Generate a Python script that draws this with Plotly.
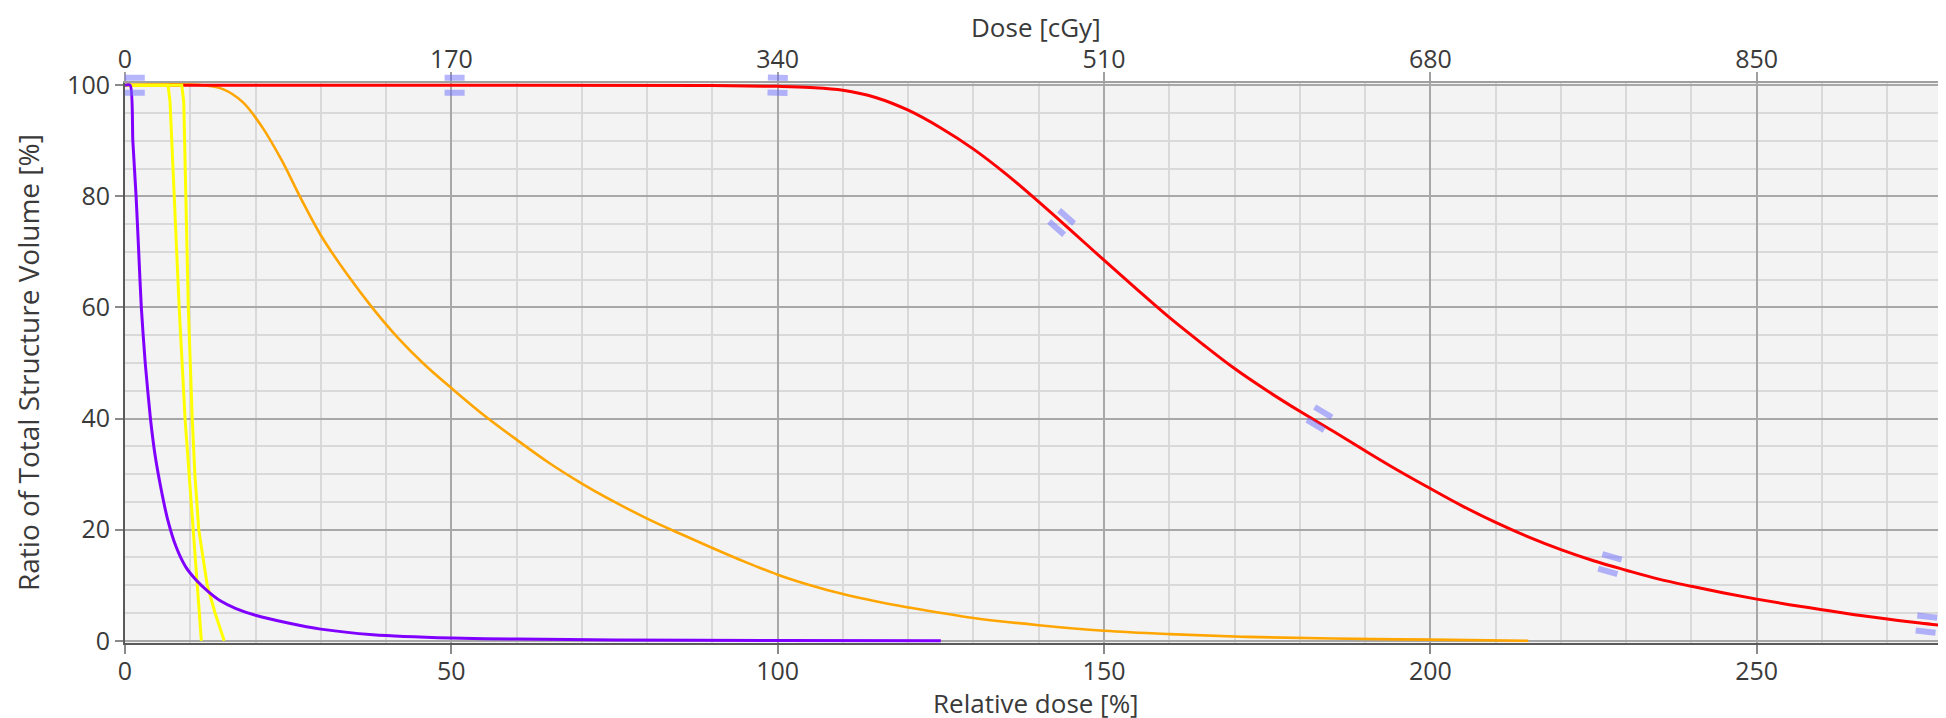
import numpy as np
import plotly.graph_objects as go

# ---------------- data ----------------
red_x = [0, 60, 90, 100, 105, 110, 115, 120, 125, 130, 135, 140, 145, 150, 155, 160, 165, 170,
         175, 180, 185, 190, 195, 200, 205, 210, 215, 220, 225, 230, 235, 240, 245, 250, 255,
         260, 265, 270, 275, 279]
red_y = [100, 100, 99.95, 99.8, 99.6, 99.1, 97.8, 95.5, 92.3, 88.5, 84.0, 79.0, 73.8, 68.5,
         63.3, 58.2, 53.5, 49.0, 45.0, 41.3, 37.8, 34.2, 30.7, 27.4, 24.2, 21.3, 18.7, 16.4,
         14.4, 12.7, 11.1, 9.8, 8.6, 7.5, 6.5, 5.6, 4.7, 3.9, 3.2, 2.7]

orange_x = [0, 12, 15, 18, 21, 24, 27, 30, 34, 38, 42, 46, 50, 55, 60, 65, 70, 75, 80, 85, 90,
            95, 100, 105, 110, 115, 120, 130, 140, 150, 160, 172, 185, 200, 215]
orange_y = [100, 100, 99.3, 97.0, 92.5, 86.5, 79.5, 73.0, 66.0, 59.8, 54.3, 49.6, 45.5, 40.6,
            36.2, 32.0, 28.3, 25.0, 22.0, 19.3, 16.7, 14.2, 11.9, 10.0, 8.4, 7.1, 6.0, 4.1, 2.8,
            1.8, 1.2, 0.7, 0.4, 0.2, 0.0]

purple_x = [0, 0.8, 1.2, 1.7, 2.1, 2.5, 3.1, 3.9, 4.6, 5.5, 6.5, 7.8, 9.3, 11, 12.8, 14.6, 17,
            20, 25, 30, 38, 50, 60, 75, 100, 125]
purple_y = [100, 100, 90, 80, 70, 60, 50, 40, 33.5, 27.5, 22, 17, 13.3, 10.8, 8.8, 7.2, 5.8,
            4.6, 3.2, 2.1, 1.1, 0.5, 0.3, 0.15, 0.05, 0.0]

yellow1_x = [0, 6.6, 6.9, 7.5, 8.3, 9.2, 9.8, 10.4, 11.0, 11.4, 11.7]
yellow1_y = [100, 100, 97, 80, 60, 40, 30, 20, 10, 5, 0]

yellow2_x = [0, 8.7, 9.0, 9.3, 9.7, 10.3, 10.7, 11.3, 12.6, 13.8, 15.2]
yellow2_y = [100, 100, 97, 80, 60, 40, 30, 20, 10, 5, 0]

# constraint markers on the red curve
mark_x = [1.5, 50.5, 100, 143.5, 183, 227.5, 276]
mark_y = [100, 100, 100, 75.3, 40, 13.8, 3.0]

x_max = 279
cgy_per_pct = 3.4
top_ticks = [0, 170, 340, 510, 680, 850]

# ---------------- layout geometry ----------------
W, H = 1946, 718
ML, MR, MT, MB = 117, 8, 75, 83
y_lo, y_hi = -0.4, 100.4
PW, PH = W - ML - MR, H - MT - MB
ppx = PW / x_max
ppy = PH / (y_hi - y_lo)

FONT = "Open Sans"
TXT = "#3a3a3a"
TICK_SIZE = 25
TITLE_SIZE = 26

fig = go.Figure()

def add_line(x, y, color, width, shape="linear", smoothing=1.0):
    line = dict(color=color, width=width, shape=shape)
    if shape == "spline":
        line["smoothing"] = smoothing
    fig.add_trace(go.Scatter(x=x, y=y, mode="lines", line=line,
                             showlegend=False, hoverinfo="skip"))

add_line(orange_x, orange_y, "#ffa500", 2.6, "spline", 1.0)
add_line(red_x, red_y, "#ff0000", 3, "spline", 1.0)
add_line(yellow1_x, yellow1_y, "#ffff00", 3)
add_line(yellow2_x, yellow2_y, "#ffff00", 3)
add_line(purple_x, purple_y, "#8000ff", 3, "spline", 0.6)

# dummy trace for the top (cGy) axis
fig.add_trace(go.Scatter(x=[0, x_max * cgy_per_pct], y=[None, None], xaxis="x2", yaxis="y",
                         mode="lines", showlegend=False, hoverinfo="skip"))

# "=" constraint marks aligned with the red curve
shapes = []
rx = np.array(red_x, float)
ry = np.array(red_y, float)
for mx, my in zip(mark_x, mark_y):
    h = 2.0
    dy = np.interp(mx + h, rx, ry) - np.interp(mx - h, rx, ry)
    ux, uy = 2 * h * ppx, dy * ppy
    n = np.hypot(ux, uy)
    ux, uy = ux / n, uy / n
    nx, ny = -uy, ux
    L, d = 10.0, 7.5
    segs = []
    for s in (1, -1):
        ax, ay = s * d * nx - L * ux, s * d * ny - L * uy
        bx, by = s * d * nx + L * ux, s * d * ny + L * uy
        segs.append(f"M{ax:.2f},{ay:.2f} L{bx:.2f},{by:.2f}")
    shapes.append(dict(type="path", xref="paper", yref="paper", xsizemode="pixel",
                       ysizemode="pixel", xanchor=mx / x_max,
                       yanchor=(my - y_lo) / (y_hi - y_lo), path=" ".join(segs),
                       line=dict(color="rgba(110,110,255,0.5)", width=6), layer="above"))

# right border
shapes.append(dict(type="line", xref="paper", yref="paper", x0=1, x1=1, y0=0, y1=1,
                   line=dict(color="#a0a0a0", width=2), layer="above"))

# axis titles as annotations (pixel-placed)
def py(pix):  # pixel row from top -> paper y
    return (H - MB - pix) / PH

def px(pix):  # pixel column from left -> paper x
    return (pix - ML) / PW

annotations = [
    dict(text="Dose [cGy]", xref="paper", yref="paper", x=0.5, y=py(18.5), showarrow=False,
         xanchor="center", yanchor="middle", font=dict(size=TITLE_SIZE, family=FONT, color=TXT)),
    dict(text="Relative dose [%]", xref="paper", yref="paper", x=0.5, y=py(695), showarrow=False,
         xanchor="center", yanchor="middle", font=dict(size=TITLE_SIZE, family=FONT, color=TXT)),
    dict(text="Ratio of Total Structure Volume [%]", xref="paper", yref="paper", x=px(20),
         y=0.5, showarrow=False, textangle=-90, xanchor="center", yanchor="middle",
         font=dict(size=TITLE_SIZE + 2, family=FONT, color=TXT)),
]

fig.update_layout(
    width=W, height=H,
    margin=dict(l=ML, r=MR, t=MT, b=MB, pad=0, autoexpand=False),
    paper_bgcolor="white",
    plot_bgcolor="#f3f3f3",
    font=dict(family=FONT, color=TXT, size=TICK_SIZE),
    shapes=shapes,
    annotations=annotations,
    xaxis=dict(
        range=[0, x_max], tickmode="linear", tick0=0, dtick=50, automargin=False,
        showgrid=True, gridcolor="#a8a8a8", gridwidth=2,
        minor=dict(dtick=10, showgrid=True, gridcolor="#d9d9d9", gridwidth=2),
        showline=True, linecolor="#5a5a5a", linewidth=2,
        ticks="outside", ticklen=9, tickwidth=2, tickcolor="#8a8a8a",
        ticklabelstandoff=-4,
        tickfont=dict(size=TICK_SIZE, family=FONT, color=TXT),
        zeroline=False,
    ),
    xaxis2=dict(
        overlaying="x", side="top", range=[0, x_max * cgy_per_pct], automargin=False,
        tickmode="array", tickvals=top_ticks, ticktext=[str(v) for v in top_ticks],
        showgrid=False, zeroline=False,
        showline=True, linecolor="#a0a0a0", linewidth=2,
        ticks="outside", ticklen=9, tickwidth=2, tickcolor="#a0a0a0",
        ticklabelstandoff=-6,
        tickfont=dict(size=TICK_SIZE, family=FONT, color=TXT),
    ),
    yaxis=dict(
        range=[y_lo, y_hi], tickmode="linear", tick0=0, dtick=20, automargin=False,
        showgrid=True, gridcolor="#a8a8a8", gridwidth=2,
        minor=dict(dtick=5, showgrid=True, gridcolor="#d9d9d9", gridwidth=2),
        showline=True, linecolor="#5a5a5a", linewidth=2,
        ticks="outside", ticklen=8, tickwidth=2, tickcolor="#8a8a8a",
        tickfont=dict(size=TICK_SIZE, family=FONT, color=TXT),
        zeroline=False,
    ),
)

fig.write_html("out.html")
